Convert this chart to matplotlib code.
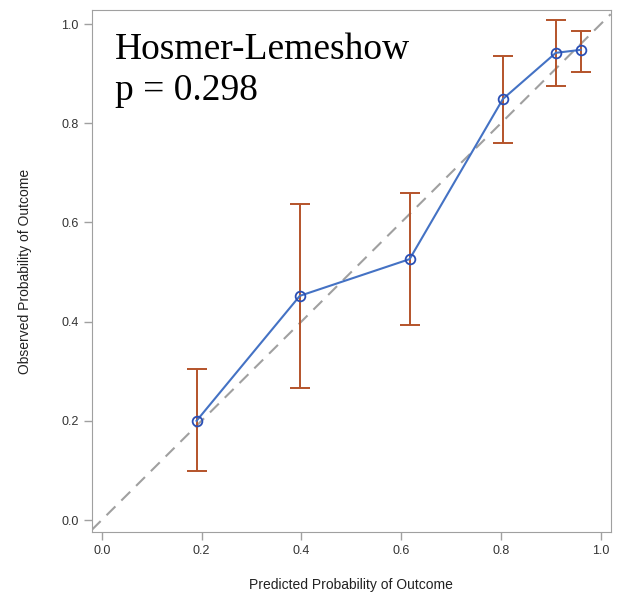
import numpy as np
import matplotlib.pyplot as plt

# Calibration data (deciles of predicted risk)
predicted = [0.19, 0.397, 0.617, 0.804, 0.91, 0.96]
observed = [0.200, 0.452, 0.526, 0.849, 0.942, 0.948]
lower = [0.098, 0.266, 0.393, 0.760, 0.876, 0.904]
upper = [0.305, 0.637, 0.659, 0.935, 1.008, 0.987]
ticks = [0.0, 0.2, 0.4, 0.6, 0.8, 1.0]
hl_text = "Hosmer-Lemeshow\np = 0.298"

plt.rcParams["font.family"] = ["Liberation Sans", "DejaVu Sans"]

fig = plt.figure(figsize=(6.2, 5.99), dpi=100)
ax = fig.add_axes([0.148, 0.112, 0.837, 0.871])

ax.set_xlim(-0.02, 1.02)
ax.set_ylim(-0.024, 1.028)

# reference line
ax.plot([-0.02, 1.02], [-0.02, 1.02], color="#a0a0a0", lw=1.5,
        dashes=(6, 4), zorder=1)

obs = np.array(observed)
yerr = [obs - np.array(lower), np.array(upper) - obs]
ax.errorbar(predicted, observed, yerr=yerr, fmt="none", ecolor="#b4532a",
            elinewidth=1.4, capsize=7, capthick=1.4, zorder=2)
ax.plot(predicted, observed, color="#4472c4", lw=1.5, marker="o", ms=7,
        mfc="none", mec="#2a4fb5", mew=1.3, zorder=3)

ax.text(0.045, 0.957, hl_text, transform=ax.transAxes, ha="left", va="top",
        fontsize=27, family="Liberation Serif", linespacing=1.25)

ax.set_xticks(ticks)
ax.set_yticks(ticks)
ax.set_xticklabels([f"{t:.1f}" for t in ticks])
ax.set_yticklabels([f"{t:.1f}" for t in ticks])
ax.tick_params(colors="#a0a0a0", labelcolor="#333333", labelsize=9,
               length=6, width=1)
for s in ax.spines.values():
    s.set_color("#a0a0a0")

ax.set_xlabel("Predicted Probability of Outcome", fontsize=10, color="#222222",
              labelpad=15)
ax.set_ylabel("Observed Probability of Outcome", fontsize=10, color="#222222",
              labelpad=21)

fig.savefig("out.png", dpi=100)
